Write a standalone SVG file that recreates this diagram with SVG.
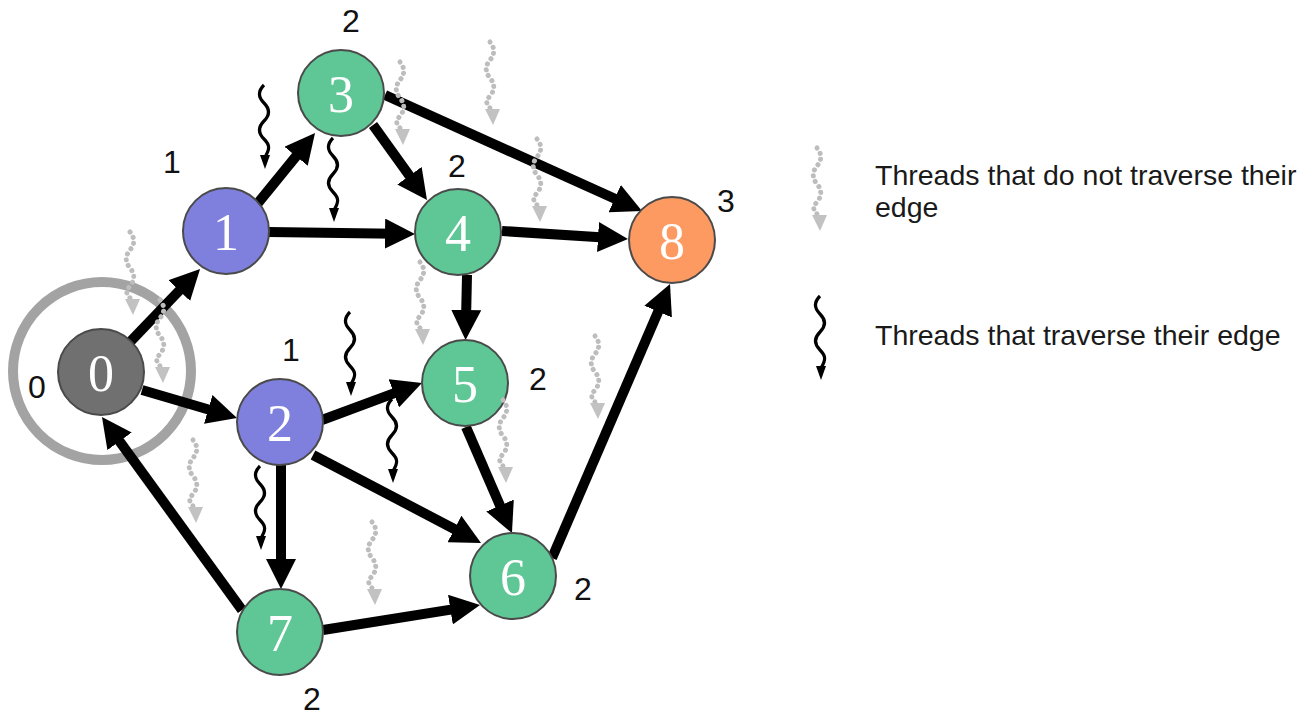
<svg xmlns="http://www.w3.org/2000/svg" width="1301" height="716" viewBox="0 0 1301 716">
<style>
.edge{stroke:#000;stroke-width:10;fill:none;marker-end:url(#ah)}
.node circle{stroke:#4a4a4a;stroke-width:2}
.num{font-family:"Liberation Serif",serif;font-size:52px;fill:#fff;text-anchor:middle}
.lab{font-family:"Liberation Sans",Arial,sans-serif;font-size:32px;fill:#111;text-anchor:middle}
.leg{font-family:"Liberation Sans",Arial,sans-serif;font-size:28.5px;fill:#1a1a1a}
.green{fill:#5ec795}.purple{fill:#7f80dd}.gray{fill:#707070}.orange{fill:#fd9a62}
.wb{stroke:#000;stroke-width:3.2;fill:none}
.wg{stroke:#bdbdbd;stroke-width:5;fill:none;stroke-dasharray:0.1 6;stroke-linecap:round}
</style>
<defs>
<marker id="ah" viewBox="0 0 30 30" refX="10" refY="15" markerWidth="30" markerHeight="30" markerUnits="userSpaceOnUse" orient="auto">
<path d="M0,0 L30,15 L0,30 z" fill="#000"/>
</marker>
<g id="blk">
<path class="wb" d="M0,0 C-6,6 -6,12 0,18 S6,30 0,36 S-6,48 0,54 S6,64 1,72"/>
<polygon points="-4,70 6,70 1,84" fill="#000"/>
</g>
<g id="gry">
<path class="wg" d="M0,0 C5,6 5,12 0,18 S-5,30 0,36 S5,48 0,54 S-4,62 2,68"/>
<polygon points="-5,67 10,67 3,83" fill="#c2c2c2"/>
</g>
</defs>
<rect width="1301" height="716" fill="#fff"/>
<circle cx="102" cy="371" r="89" fill="none" stroke="#a3a3a3" stroke-width="10"/>
<g id="edges">
<path class="edge" d="M130,342 L186.2,283.4"/>
<path class="edge" d="M142,390 L217.8,412.3"/>
<path class="edge" d="M242,610 L113.7,433.2"/>
<path class="edge" d="M258,203 L302.4,148.5"/>
<path class="edge" d="M269,232 L395,233.7"/>
<path class="edge" d="M373,125 L415.3,183.8"/>
<path class="edge" d="M385,95 L623.8,202.8"/>
<path class="edge" d="M502,231 L608,237.7"/>
<path class="edge" d="M467,275 L466,320"/>
<path class="edge" d="M322,420 L403.2,389.9"/>
<path class="edge" d="M313,455 L463.3,533.7"/>
<path class="edge" d="M281,465 L281,569"/>
<path class="edge" d="M466,427 L504,514.7"/>
<path class="edge" d="M552,558 L662.1,302.4"/>
<path class="edge" d="M323,630 L460.3,608.1"/>
</g>
<g id="node0" class="node"><circle class="gray" cx="101" cy="372" r="43"/><text class="num" x="101" y="391">0</text></g>
<g id="node1" class="node"><circle class="purple" cx="226" cy="231" r="43"/><text class="num" x="226" y="250">1</text></g>
<g id="node2" class="node"><circle class="purple" cx="280" cy="422" r="43"/><text class="num" x="280" y="441">2</text></g>
<g id="node3" class="node"><circle class="green" cx="341" cy="93" r="43"/><text class="num" x="341" y="112">3</text></g>
<g id="node4" class="node"><circle class="green" cx="458" cy="232" r="43"/><text class="num" x="458" y="251">4</text></g>
<g id="node5" class="node"><circle class="green" cx="465" cy="383" r="43"/><text class="num" x="465" y="402">5</text></g>
<g id="node6" class="node"><circle class="green" cx="513" cy="576" r="43"/><text class="num" x="513" y="595">6</text></g>
<g id="node7" class="node"><circle class="green" cx="280" cy="632" r="43"/><text class="num" x="280" y="651">7</text></g>
<g id="node8" class="node"><circle class="orange" cx="672" cy="240" r="43"/><text class="num" x="672" y="259">8</text></g>
<g id="labels">
<text class="lab" x="37" y="398">0</text>
<text class="lab" x="172" y="173">1</text>
<text class="lab" x="351" y="32">2</text>
<text class="lab" x="457" y="177">2</text>
<text class="lab" x="726" y="212">3</text>
<text class="lab" x="538" y="390">2</text>
<text class="lab" x="291" y="361">1</text>
<text class="lab" x="583" y="600">2</text>
<text class="lab" x="312" y="710">2</text>
</g>
<g id="threads">
<use href="#blk" x="264" y="85"/>
<use href="#blk" x="333" y="138"/>
<use href="#blk" x="350" y="312"/>
<use href="#blk" x="392" y="399"/>
<use href="#blk" x="260" y="466"/>
<use href="#gry" x="130" y="232"/>
<use href="#gry" x="160" y="300"/>
<use href="#gry" x="400" y="62"/>
<use href="#gry" x="490" y="42"/>
<use href="#gry" x="537" y="139"/>
<use href="#gry" x="420" y="262"/>
<use href="#gry" x="595" y="336"/>
<use href="#gry" x="503" y="400"/>
<use href="#gry" x="193" y="440"/>
<use href="#gry" x="372" y="522"/>
</g>
<g id="legend">
<use href="#gry" x="817" y="148"/>
<text class="leg" x="875" y="185">Threads that do not traverse their</text>
<text class="leg" x="875" y="217">edge</text>
<use href="#blk" x="820" y="296"/>
<text class="leg" x="875" y="345">Threads that traverse their edge</text>
</g>
</svg>
